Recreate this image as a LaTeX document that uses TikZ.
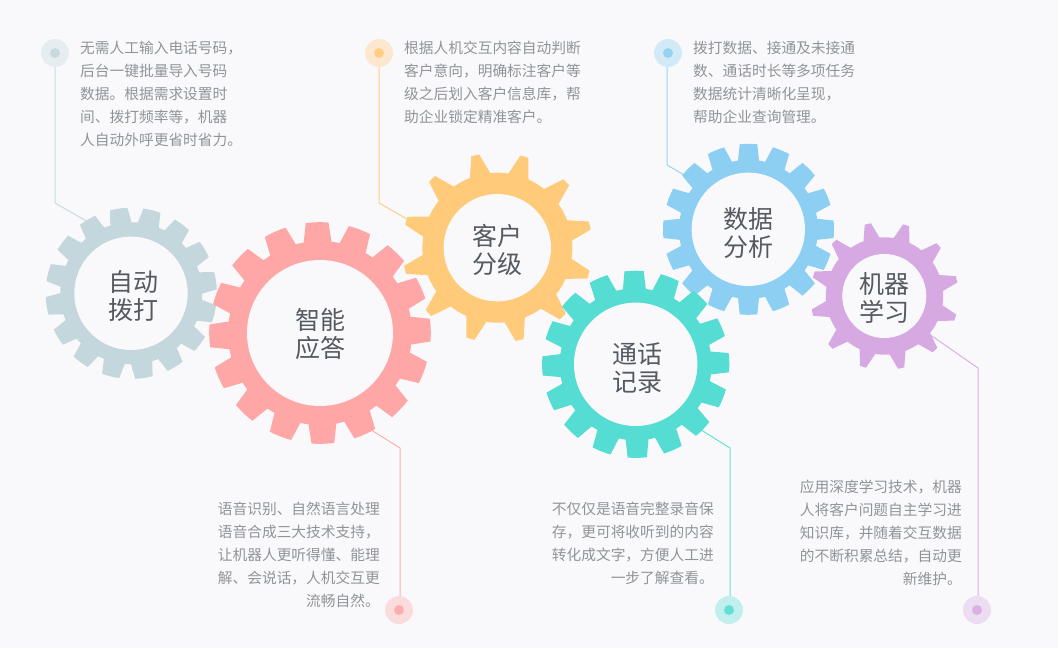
\documentclass[tikz,border=0pt]{standalone}
\usepackage{fontspec}
\setmainfont{Noto Sans CJK SC}
\definecolor{bgc}{HTML}{F9F9FC}
\definecolor{cgray}{HTML}{C3D7DD}
\definecolor{cpink}{HTML}{FFA7A6}
\definecolor{corange}{HTML}{FFCA79}
\definecolor{cteal}{HTML}{56DDD3}
\definecolor{cblue}{HTML}{8CCFF3}
\definecolor{cpurple}{HTML}{D7A9E3}
\definecolor{txtc}{HTML}{909398}
\definecolor{hubc}{HTML}{555A61}
\tikzset{
  x=1pt,y=-1pt,
  hub/.style={circle,fill=bgc,inner sep=0pt},
  hubtext/.style={inner sep=0pt,text=hubc,align=center,font=\fontsize{25}{28}\selectfont},
  desc/.style={inner sep=0pt,text=txtc,font=\fontsize{14.72}{23}\selectfont},
  descl/.style={desc,anchor=north west,align=left},
  descr/.style={desc,anchor=north east,align=right},
  halo/.style={circle,inner sep=0pt,minimum size=28pt,fill=#1,fill opacity=.35},
  dotc/.style={circle,inner sep=0pt,minimum size=10pt,fill=#1,fill opacity=.85},
  lead/.style={line width=1pt,draw=#1,opacity=.9},
}
% centre, colour, root r, tip r, teeth, phase, base half-angle, tip half-angle
\newcommand{\gearshape}[8]{%
  \begin{scope}[shift={(#1)}]
    \pgfmathsetmacro{\gstep}{360/#5}
    \fill[#2] (#6-#7:#3pt)
      \foreach \k [evaluate=\k as \ga using {#6+\k*\gstep}] in {0,...,\numexpr#5-1\relax} {
        -- (\ga-#7:#3pt) -- (\ga-#8:#4pt)
        arc[start angle=\ga-#8,end angle=\ga+#8,radius=#4pt]
        -- (\ga+#7:#3pt)
        arc[start angle=\ga+#7,end angle=\ga+\gstep-#7,radius=#3pt]
      } -- cycle;
  \end{scope}}
\begin{document}
\begin{tikzpicture}
\useasboundingbox (0,0) rectangle (1058,648);
\fill[bgc] (0,0) rectangle (1058,648);

% markers
\node[halo=cgray]   (m1) at (55,53) {};
\node[halo=corange] (m2) at (379,53) {};
\node[halo=cblue]   (m3) at (668,53) {};
\node[halo=cpink]   (m4) at (399,610) {};
\node[halo=cteal]   (m5) at (729,610) {};
\node[halo=cpurple] (m6) at (977,610) {};
\node[dotc=cgray]   (d1) at (55,53) {};
\node[dotc=corange] (d2) at (379,53) {};
\node[dotc=cblue]   (d3) at (668,53) {};
\node[dotc=cpink]   (d4) at (399,610) {};
\node[dotc=cteal]   (d5) at (729,610) {};
\node[dotc=cpurple] (d6) at (977,610) {};

% connector ends on the gears and bends
\coordinate (e1) at (90,223);
\coordinate (e2) at (412,222);
\coordinate (e3) at (691,179);
\coordinate (e4) at (368,428);
\coordinate (e5) at (698,428);
\coordinate (e6) at (929,334);
\coordinate (b1) at (55,203);
\coordinate (b2) at (379,203);
\coordinate (b3) at (667,165);
\coordinate (b4) at (400,448);
\coordinate (b5) at (730,448);
\coordinate (b6) at (978,368);

\draw[lead=cgray]   (m1.south) -- (b1) -- (e1);
\draw[lead=corange] (m2.south) -- (b2) -- (e2);
\draw[lead=cblue]   (m3.south -| b3) -- (b3) -- (e3);
\draw[lead=cpink]   (m4.north -| b4) -- (b4) -- (e4);
\draw[lead=cteal]   (m5.north -| b5) -- (b5) -- (e5);
\draw[lead=cpurple] (m6.north -| b6) -- (b6) -- (e6);

% gears
\gearshape{131.3,293.3}{cgray}{71}{85.6}{16}{98.5}{8.7}{5.9}
\gearshape{497.4,247.7}{corange}{75}{95}{12}{103.5}{8}{2.5}
\gearshape{748.5,229.3}{cblue}{69.5}{85.5}{16}{90}{8.7}{5.9}
\gearshape{884.5,296}{cpurple}{58.7}{74}{12}{103}{8}{2.5}
\gearshape{320,333}{cpink}{92}{110.8}{16}{91.5}{8.7}{5.9}
\gearshape{635.7,364.3}{cteal}{76}{93.6}{16}{91}{8.7}{5.9}

\node[hub,minimum size=113.4pt] (g1) at (131,293.3) {};
\node[hub,minimum size=146pt]   (g2) at (320,333) {};
\node[hub,minimum size=107.4pt] (g3) at (497.3,247.7) {};
\node[hub,minimum size=123.4pt] (g4) at (635.7,364.3) {};
\node[hub,minimum size=113.4pt] (g5) at (748.3,229.3) {};
\node[hub,minimum size=84pt]    (g6) at (884.3,296) {};

\node[hubtext] (l1) at (133,296.5) {自动\\拨打};
\node[hubtext] (l2) at (320,334.5) {智能\\应答};
\node[hubtext] (l3) at (497.3,250) {客户\\分级};
\node[hubtext] (l4) at (637.7,368.5) {通话\\记录};
\node[hubtext] (l5) at (748.3,233) {数据\\分析};
\node[hubtext] (l6) at (884.3,297.5) {机器\\学习};

% descriptions
\node[descl] (t1) at (80,40.5) {无需人工输入电话号码，\\后台一键批量导入号码\\数据。根据需求设置时\\间、拨打频率等，机器\\人自动外呼更省时省力。};
\node[descl] (t2) at (404,40.5) {根据人机交互内容自动判断\\客户意向，明确标注客户等\\级之后划入客户信息库，帮\\助企业锁定精准客户。};
\node[descl] (t3) at (693,40.5) {拨打数据、接通及未接通\\数、通话时长等多项任务\\数据统计清晰化呈现，\\帮助企业查询管理。};
\node[descr] (t4) at (380,501.5) {语音识别、自然语言处理\\语音合成三大技术支持，\\让机器人更听得懂、能理\\解、会说话，人机交互更\\流畅自然。};
\node[descr] (t5) at (714,501.5) {不仅仅是语音完整录音保\\存，更可将收听到的内容\\转化成文字，方便人工进\\一步了解查看。};
\node[descr] (t6) at (962,479.5) {应用深度学习技术，机器\\人将客户问题自主学习进\\知识库，并随着交互数据\\的不断积累总结，自动更\\新维护。};
\end{tikzpicture}
\end{document}
